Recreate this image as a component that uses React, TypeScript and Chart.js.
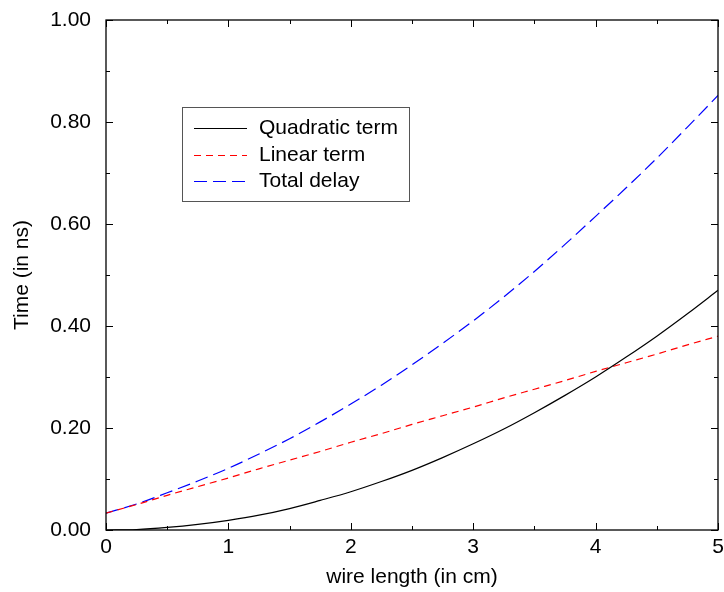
import React, { useEffect, useRef } from "react";
import { Chart, registerables } from "chart.js";

Chart.register(...registerables);

const xValues = [0, 0.25, 0.5, 0.75, 1, 1.25, 1.5, 1.75, 2, 2.25, 2.5, 2.75, 3, 3.25, 3.5, 3.75, 4, 4.25, 4.5, 4.75, 5];
const quadratic = [0, 0.001, 0.005, 0.011, 0.019, 0.029, 0.042, 0.058, 0.075, 0.095, 0.117, 0.142, 0.169, 0.198, 0.23, 0.264, 0.3, 0.339, 0.38, 0.424, 0.47];
const linear = [0.033, 0.05, 0.068, 0.085, 0.102, 0.12, 0.137, 0.154, 0.172, 0.189, 0.207, 0.224, 0.241, 0.259, 0.276, 0.293, 0.311, 0.328, 0.345, 0.363, 0.38];
const total = [0.033, 0.051, 0.073, 0.096, 0.121, 0.149, 0.179, 0.212, 0.247, 0.284, 0.324, 0.366, 0.41, 0.457, 0.507, 0.56, 0.615, 0.671, 0.729, 0.79, 0.852];
const seriesLabels = ["Quadratic term", "Linear term", "Total delay"];
const yTickLabels = ["0.00", "0.20", "0.40", "0.60", "0.80", "1.00"];

const FONT = "'Liberation Sans', Arial, Helvetica, sans-serif";
const colors = ["#000000", "#ff0000", "#0000ff"];
const dashes: number[][] = [[], [7, 5], [13, 6]];

const framePlugin = {
  id: "frameTicks",
  afterDraw(chart: any) {
    const { ctx, chartArea: a, scales } = chart;
    const xs = scales.x;
    const ys = scales.y;
    ctx.save();
    ctx.strokeStyle = "#000";
    ctx.lineWidth = 1.3;
    ctx.setLineDash([]);
    ctx.strokeRect(a.left, a.top, a.right - a.left, a.bottom - a.top);
    ctx.lineWidth = 1;
    for (let i = 0; i <= 10; i++) {
      const v = i * 0.5;
      const px = Math.round(xs.getPixelForValue(v)) + 0.5;
      const len = i % 2 === 0 ? 7 : 4;
      ctx.beginPath();
      ctx.moveTo(px, a.bottom);
      ctx.lineTo(px, a.bottom - len);
      ctx.moveTo(px, a.top);
      ctx.lineTo(px, a.top + len);
      ctx.stroke();
    }
    for (let i = 0; i <= 10; i++) {
      const v = i * 0.1;
      const py = Math.round(ys.getPixelForValue(v)) + 0.5;
      const len = i % 2 === 0 ? 7 : 4;
      ctx.beginPath();
      ctx.moveTo(a.left, py);
      ctx.lineTo(a.left + len, py);
      ctx.moveTo(a.right, py);
      ctx.lineTo(a.right - len, py);
      ctx.stroke();
    }
    // legend
    const bx = 182, by = 107, bw = 227, bh = 94;
    ctx.strokeStyle = "#555";
    ctx.lineWidth = 1;
    ctx.strokeRect(bx + 0.5, by + 0.5, bw, bh);
    ctx.font = `21px ${FONT}`;
    ctx.textBaseline = "middle";
    ctx.textAlign = "left";
    const rows = [128, 155, 181];
    seriesLabels.forEach((lab, i) => {
      ctx.strokeStyle = colors[i];
      ctx.lineWidth = 1.2;
      ctx.setLineDash(dashes[i]);
      ctx.beginPath();
      ctx.moveTo(194, rows[i] + 0.5);
      ctx.lineTo(247, rows[i] + 0.5);
      ctx.stroke();
      ctx.setLineDash([]);
      ctx.fillStyle = "#000";
      ctx.fillText(lab, 259, rows[i]);
    });
    ctx.restore();
  },
};

export default function App() {
  const ref = useRef<HTMLCanvasElement>(null);
  useEffect(() => {
    if (!ref.current) return;
    const mk = (vals: number[]) => xValues.map((x, i) => ({ x, y: vals[i] }));
    const chart = new Chart(ref.current, {
      type: "line",
      data: {
        datasets: [quadratic, linear, total].map((vals, i) => ({
          label: seriesLabels[i],
          data: mk(vals),
          borderColor: colors[i],
          borderWidth: 1.2,
          borderDash: dashes[i],
          pointRadius: 0,
          fill: false,
          cubicInterpolationMode: "monotone" as const,
        })),
      },
      options: {
        responsive: false,
        animation: false,
        layout: { padding: { top: 20, right: 6, left: 0, bottom: 0 } },
        plugins: { legend: { display: false }, tooltip: { enabled: false } },
        scales: {
          x: {
            type: "linear",
            min: 0,
            max: 5,
            grid: { display: false, drawTicks: false },
            border: { display: false },
            ticks: { stepSize: 1, color: "#000", font: { family: FONT, size: 21 }, padding: 5 },
            title: { display: true, text: "wire length (in cm)", color: "#000", font: { family: FONT, size: 21 }, padding: { top: 0, bottom: 2 } },
            afterFit: (s: any) => {
              s.height = 62;
              s.paddingLeft = 0;
              s.paddingRight = 0;
            },
          },
          y: {
            type: "linear",
            min: 0,
            max: 1,
            grid: { display: false, drawTicks: false },
            border: { display: false },
            ticks: {
              stepSize: 0.2,
              color: "#000",
              font: { family: FONT, size: 21 },
              padding: 15,
              callback: (v: any) => {
                const idx = Math.round(Number(v) / 0.2);
                return yTickLabels[idx] ?? "";
              },
            },
            title: { display: true, text: "Time (in ns)", color: "#000", font: { family: FONT, size: 21 }, padding: { top: 10, bottom: 0 } },
            afterFit: (s: any) => {
              s.width = 106;
              s.paddingTop = 0;
              s.paddingBottom = 0;
            },
          },
        },
      },
      plugins: [framePlugin],
    });
    return () => chart.destroy();
  }, []);
  return (
    <div style={{ position: "fixed", left: 0, top: 0, width: 724, height: 592, background: "#fff" }}>
      <canvas ref={ref} width={724} height={592} style={{ display: "block" }} />
    </div>
  );
}
